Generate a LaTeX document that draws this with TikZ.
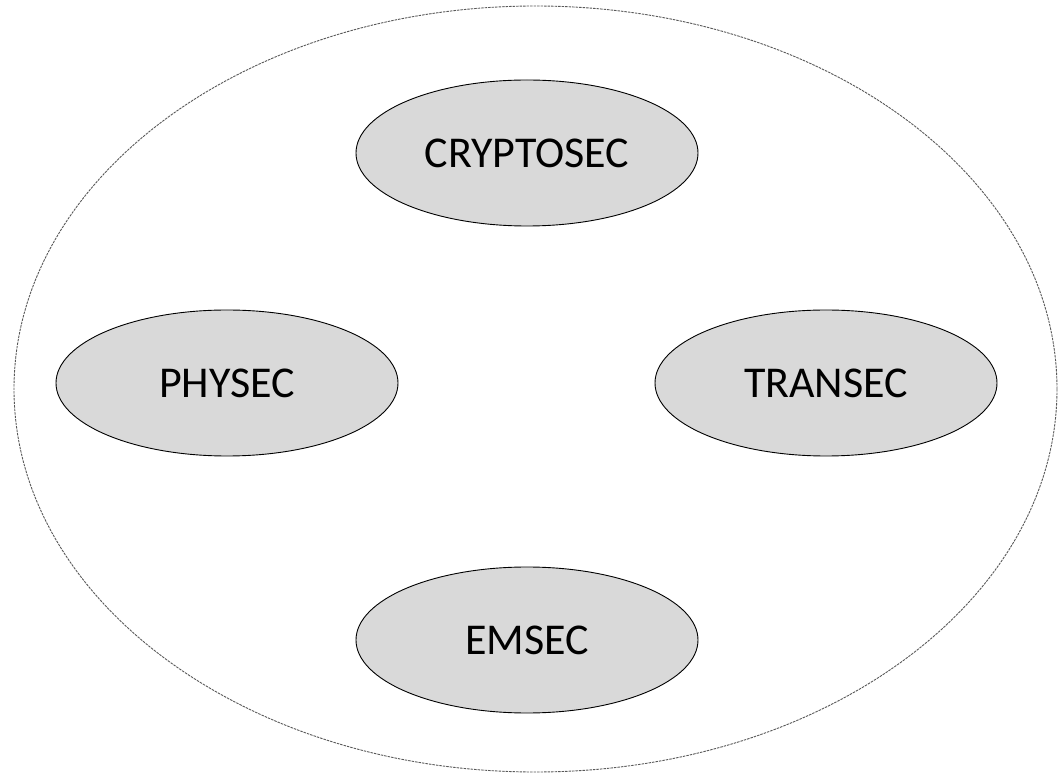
\documentclass[tikz,border=0pt]{standalone}
\usepackage{fontspec}
\setmainfont{Carlito}
\usetikzlibrary{shapes.geometric}
\begin{document}
\begin{tikzpicture}[x=1pt,y=-1pt,
  secbox/.style={ellipse,draw=black,line width=0.9pt,fill=black!15,minimum width=342pt,minimum height=146pt,inner sep=0pt,font=\fontsize{44}{48}\selectfont},
  outerbox/.style={ellipse,draw=black!65,line width=0.9pt,dash pattern=on 2.5pt off 1pt,minimum width=1043pt,minimum height=766pt,inner sep=0pt}]
\useasboundingbox (0,0) rectangle (1061,775);
\node[outerbox] (all) at (535.5,389) {};
\node[secbox] (crypto) at (527,153) {CRYPTOSEC};
\node[secbox] (phy) at (227,383) {PHYSEC};
\node[secbox] (trans) at (826,383) {TRANSEC};
\node[secbox] (em) at (527,640) {EMSEC};
\end{tikzpicture}
\end{document}
